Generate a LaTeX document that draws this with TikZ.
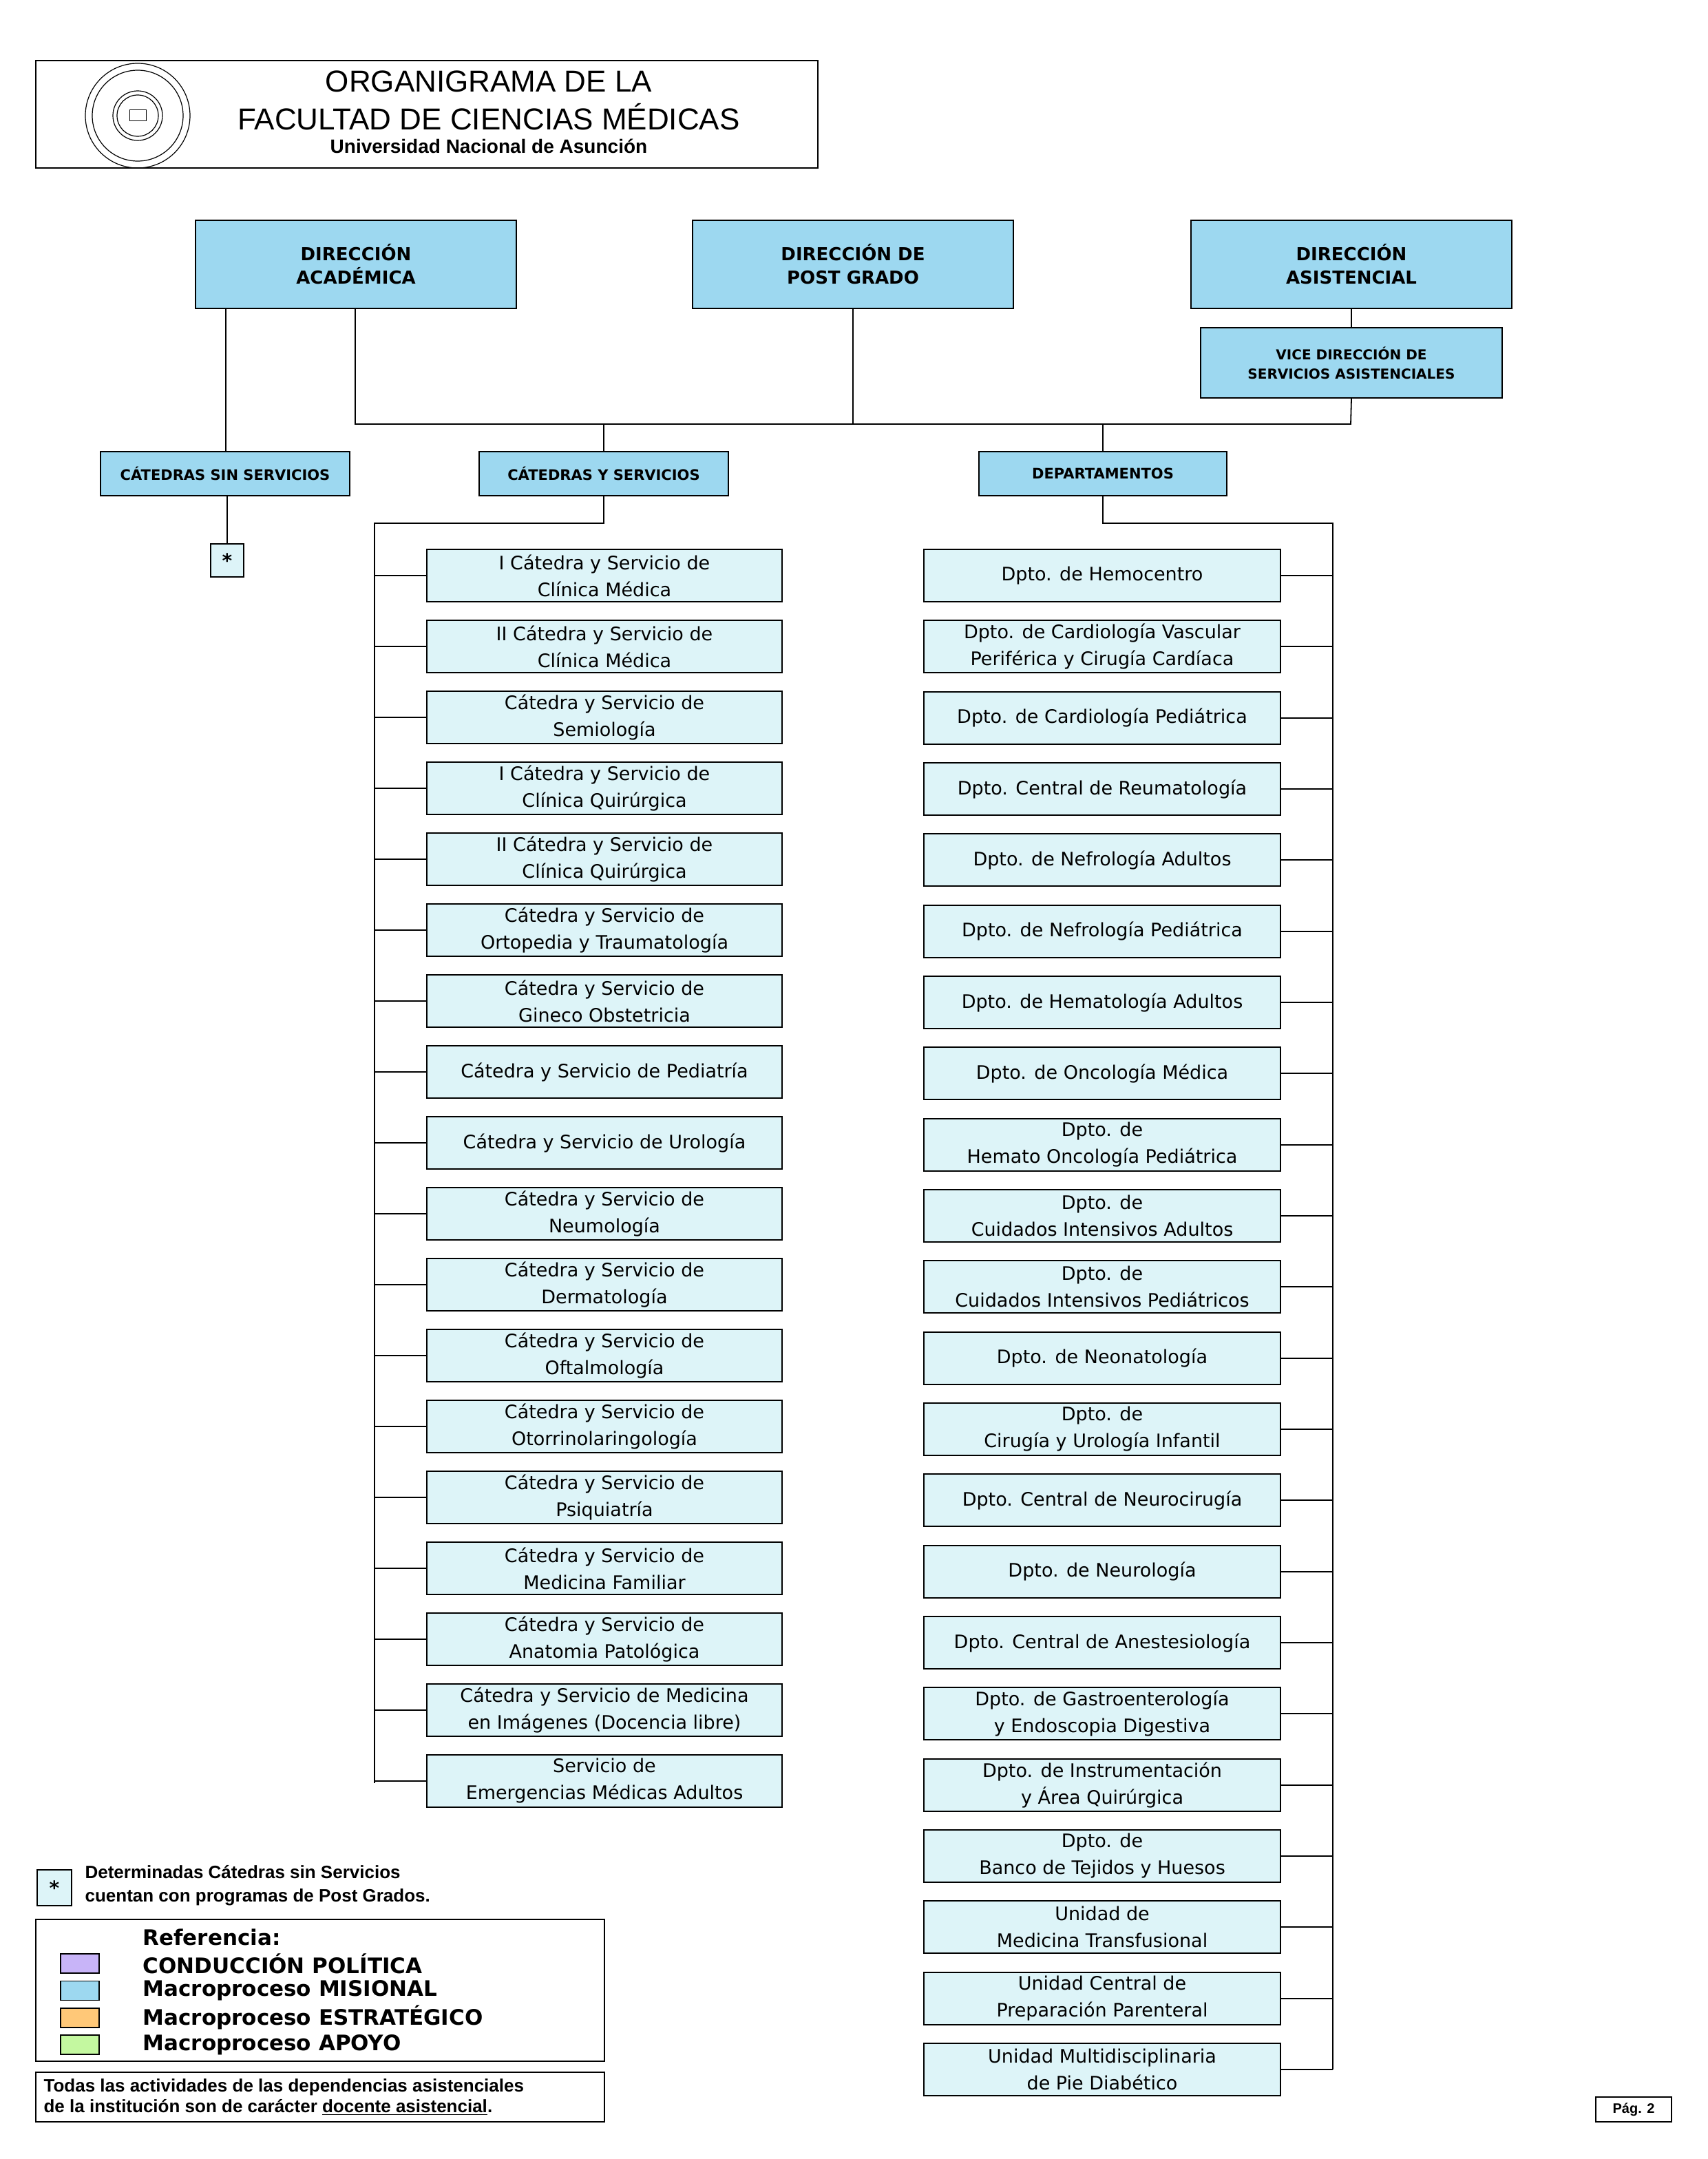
\documentclass[tikz,border=0pt]{standalone}
\usepackage{fontspec}
\setmainfont{DejaVu Sans}
\newfontfamily\lib{Liberation Sans}
\usetikzlibrary{positioning}
\definecolor{hdr}{HTML}{9DD8F0}
\definecolor{chd}{HTML}{DDF4F8}
\begin{document}
\begin{tikzpicture}[x=1pt,y=-1pt,line width=0.9pt,
  hbox/.style={draw,fill=hdr,align=center,font=\bfseries\fontsize{13}{17}\selectfont,inner sep=0},
  sbox/.style={draw,fill=hdr,align=center,font=\bfseries\fontsize{10.5}{14}\selectfont,inner sep=0},
  cbox/.style={draw,fill=chd,align=center,minimum width=258,minimum height=38,font=\fontsize{13.5}{19.5}\selectfont,inner sep=0},
  sw/.style={draw,minimum width=28,minimum height=14,inner sep=0}]
\useasboundingbox (0,0) rectangle (1240,1568);
% header
\node[draw,minimum width=568,minimum height=78,inner sep=0] (hdrbox) at (310,83) {};
\draw[line width=0.6pt] (100,84) circle (38) (100,84) circle (33) (100,84) circle (18) (100,84) circle (15);
\node[draw,line width=0.5pt,minimum width=12,minimum height=8,inner sep=0] (book) at (100,84) {};
\node[font=\lib\fontsize{22}{24}\selectfont] (t1) at (355,59) {ORGANIGRAMA DE LA};
\node[font=\lib\fontsize{22}{24}\selectfont] (t2) at (355,85) {FACULTAD DE CIENCIAS MÉDICAS};
\node[font=\lib\bfseries\fontsize{14}{16}\selectfont] (t3) at (355,106) {Universidad Nacional de Asunción};
% top level
\node[hbox,minimum width=233,minimum height=64] (da) at (258.5,192) {DIRECCIÓN\\ACADÉMICA};
\node[hbox,minimum width=233,minimum height=64] (dp) at (619.5,192) {DIRECCIÓN DE\\POST GRADO};
\node[hbox,minimum width=233,minimum height=64] (ds) at (981.5,192) {DIRECCIÓN\\ASISTENCIAL};
\node[sbox,font=\bfseries\fontsize{10}{14}\selectfont,minimum width=219,minimum height=51] (vd) at (981.5,263.5) {VICE DIRECCIÓN DE\\SERVICIOS ASISTENCIALES};
\node[sbox,minimum width=181,minimum height=32] (css) at (163.5,344) {CÁTEDRAS SIN SERVICIOS};
\node[sbox,minimum width=181,minimum height=32] (cys) at (438.5,344) {CÁTEDRAS Y SERVICIOS};
\node[sbox,minimum width=180,minimum height=32] (dep) at (801,344) {DEPARTAMENTOS};
\node[draw,fill=chd,minimum width=24,minimum height=24,inner sep=0,font=\bfseries\fontsize{14}{14}\selectfont] (star) at (165,407) {*};
% connectors top
\coordinate (j1) at (258,308); \coordinate (j2) at (981,308);
\draw (ds.south) -- (vd.north);
\draw (da.south -| 164,0) -- (css.north -| 164,0);
\draw (da.south -| j1) -- (j1) -- (j2) -- (vd.south);
\draw (dp.south) -- (dp.south |- j1);
\draw (cys.north) -- (cys.north |- j1);
\draw (dep.north) -- (dep.north |- j1);
\draw (css.south -| star) -- (star.north);
\coordinate (lt) at (272,380); \coordinate (rt) at (968,380);
\draw (cys.south) -- (cys.south |- lt) -- (lt) -- (272,1295);
\draw (dep.south) -- (dep.south |- rt) -- (rt) -- (968,1503);
% left list
\foreach \t [count=\i from 0] in {
 {I Cátedra y Servicio de\\Clínica Médica},
 {II Cátedra y Servicio de\\Clínica Médica},
 {Cátedra y Servicio de\\Semiología},
 {I Cátedra y Servicio de\\Clínica Quirúrgica},
 {II Cátedra y Servicio de\\Clínica Quirúrgica},
 {Cátedra y Servicio de\\Ortopedia y Traumatología},
 {Cátedra y Servicio de\\Gineco Obstetricia},
 {Cátedra y Servicio de Pediatría},
 {Cátedra y Servicio de Urología},
 {Cátedra y Servicio de\\Neumología},
 {Cátedra y Servicio de\\Dermatología},
 {Cátedra y Servicio de\\Oftalmología},
 {Cátedra y Servicio de\\Otorrinolaringología},
 {Cátedra y Servicio de\\Psiquiatría},
 {Cátedra y Servicio de\\Medicina Familiar},
 {Cátedra y Servicio de\\Anatomia Patológica},
 {Cátedra y Servicio de Medicina\\en Imágenes (Docencia libre)},
 {Servicio de\\Emergencias Médicas Adultos}} {
  \pgfmathsetmacro\yy{418+\i*51.5}
  \node[cbox] (l\i) at (439,\yy) {\t};
  \draw (272,\yy) -- (l\i.west);
}
% right list
\foreach \t [count=\i from 0] in {
 {Dpto. de Hemocentro},
 {Dpto. de Cardiología Vascular\\Periférica y Cirugía Cardíaca},
 {Dpto. de Cardiología Pediátrica},
 {Dpto. Central de Reumatología},
 {Dpto. de Nefrología Adultos},
 {Dpto. de Nefrología Pediátrica},
 {Dpto. de Hematología Adultos},
 {Dpto. de Oncología Médica},
 {Dpto. de\\Hemato Oncología Pediátrica},
 {Dpto. de\\Cuidados Intensivos Adultos},
 {Dpto. de\\Cuidados Intensivos Pediátricos},
 {Dpto. de Neonatología},
 {Dpto. de\\Cirugía y Urología Infantil},
 {Dpto. Central de Neurocirugía},
 {Dpto. de Neurología},
 {Dpto. Central de Anestesiología},
 {Dpto. de Gastroenterología\\y Endoscopia Digestiva},
 {Dpto. de Instrumentación\\y Área Quirúrgica},
 {Dpto. de\\Banco de Tejidos y Huesos},
 {Unidad de\\Medicina Transfusional},
 {Unidad Central de\\Preparación Parenteral},
 {Unidad Multidisciplinaria\\de Pie Diabético}} {
  \pgfmathsetmacro\yy{418+\i*51.667}
  \node[cbox,minimum width=259] (r\i) at (800.5,\yy) {\t};
  \draw (968,\yy) -- (r\i.east);
}
% star note
\node[draw,fill=chd,minimum width=25,minimum height=26,inner sep=0,font=\bfseries\fontsize{14}{14}\selectfont] (snote) at (39.5,1371) {*};
\node[anchor=west,align=left,font=\lib\bfseries\fontsize{13}{17}\selectfont] (stext) at (58,1369.5) {Determinadas Cátedras sin Servicios\\cuentan con programas de Post Grados.};
% legend
\node[draw,minimum width=413,minimum height=103,inner sep=0] (leg) at (232.5,1445.5) {};
\node[anchor=west,font=\bfseries\fontsize{15.5}{17}\selectfont] (lr) at (100,1407) {Referencia:};
\foreach \c/\t [count=\i from 0] in {C8B4F8/CONDUCCIÓN POLÍTICA,9DD8F0/Macroproceso MISIONAL,FFC878/Macroproceso ESTRATÉGICO,C4F8A0/Macroproceso APOYO}{
  \pgfmathsetmacro\yy{1426+\i*19.7}
  \definecolor{tmpc}{HTML}{\c}
  \node[sw,fill=tmpc] (s\i) at (58,\yy) {};
  \node[anchor=west,font=\bfseries\fontsize{15.5}{17}\selectfont] (lt\i) at (100,\yy) {\t};
}
\node[draw,minimum width=413,minimum height=36,inner sep=0] (nb) at (232.5,1523) {};
\node[anchor=west,align=left,font=\lib\bfseries\fontsize{13}{15}\selectfont] (nt) at (28,1523) {Todas las actividades de las dependencias asistenciales\\de la institución son de carácter \underline{docente asistencial}.};
\node[draw,minimum width=55,minimum height=18,inner sep=0,font=\lib\bfseries\fontsize{10}{12}\selectfont] (pg) at (1186.5,1532) {Pág. 2};
\end{tikzpicture}
\end{document}
